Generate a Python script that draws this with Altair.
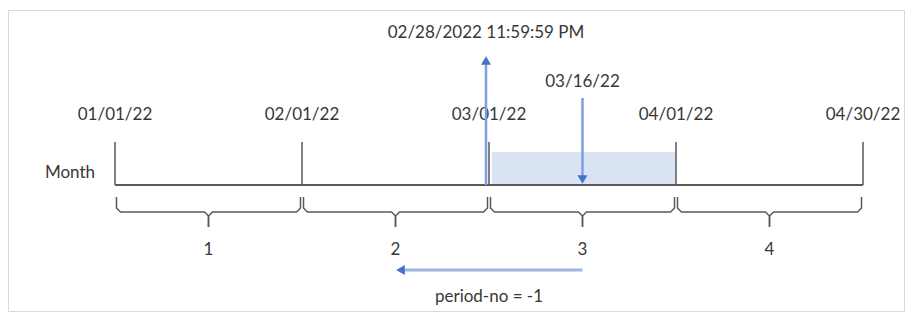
import altair as alt
import pandas as pd

# ---- data ----
boundary_labels = ["01/01/22", "02/01/22", "03/01/22", "04/01/22", "04/30/22"]
period_numbers = [1, 2, 3, 4]
row_label = "Month"
timestamp_label = "02/28/2022 11:59:59 PM"
input_label = "03/16/22"
shift_label = "period-no = -1"
input_period = 3
period_offset = -1

# ---- layout helpers (plot coordinates) ----
PX = 1.0 / 187.0           # one pixel in position units
XS = alt.Scale(domain=[-107 * PX, 790 * PX], nice=False, zero=False)
YS = alt.Scale(domain=[0, 304], reverse=True, nice=False, zero=False)
INK = "#595959"
TXT = "#383838"
BLUE = "#4472c4"
SHAFT = "#7f9edb"
FONT = "Lato"
FS = 17

def X(f="x"):
    return alt.X(f"{f}:Q", scale=XS, axis=None)

def Y(f="y"):
    return alt.Y(f"{f}:Q", scale=YS, axis=None)

n = len(boundary_labels)
bounds = pd.DataFrame({"x": list(range(n)), "label": boundary_labels,
                       "y": [134] * n, "y2": [177] * n, "ly": [107] * n})

frame = alt.Chart(pd.DataFrame({"a": [0]})).mark_rect(
    fill=None, stroke="#d9d9d9", strokeWidth=1).encode(
    x=alt.value(0.5), x2=alt.value(896.5), y=alt.value(2.5), y2=alt.value(303.5))

shade = alt.Chart(pd.DataFrame({"x": [input_period - 1 + 3 * PX], "x2": [input_period],
                                "y": [144], "y2": [177]})).mark_rect(
    color="#dae3f3").encode(x=X(), x2="x2:Q", y=Y(), y2="y2:Q")

ticks = alt.Chart(bounds).mark_rule(color=INK, strokeWidth=1.5).encode(
    x=X(), y=Y(), y2="y2:Q")

baseline = alt.Chart(pd.DataFrame({"x": [0], "x2": [n - 1], "y": [177]})).mark_rule(
    color=INK, strokeWidth=2).encode(x=X(), x2="x2:Q", y=Y())

date_text = alt.Chart(bounds).mark_text(font=FONT, fontSize=FS, color=TXT,
                                        baseline="middle").encode(
    x=X(), y=Y("ly"), text="label:N")

month_text = alt.Chart(pd.DataFrame({"x": [0], "y": [165], "t": [row_label]})).mark_text(
    font=FONT, fontSize=FS, color=TXT, align="right", baseline="middle", dx=-20).encode(
    x=X(), y=Y(), text="t:N")

# braces under each period
rows = []
for k in period_numbers:
    a, b, c = k - 1, k, k - 0.5
    for side, end, sgn in (("L", a + 1.5 * PX, 1), ("R", b - 1.5 * PX, -1)):
        pts = [(end, 189), (end, 200), (end + sgn * 4 * PX, 204),
               (c - sgn * 4 * PX, 204), (c, 208), (c, 219)]
        for i, (px, py) in enumerate(pts):
            rows.append({"seg": f"{k}{side}", "o": i, "x": px, "y": py})
braces = alt.Chart(pd.DataFrame(rows)).mark_line(color=INK, strokeWidth=1.5).encode(
    x=X(), y=Y(), detail="seg:N", order="o:Q")

nums = alt.Chart(pd.DataFrame({"x": [k - 0.5 for k in period_numbers],
                               "t": [str(k) for k in period_numbers],
                               "y": [242] * len(period_numbers)})).mark_text(
    font=FONT, fontSize=FS, color=TXT, baseline="middle").encode(
    x=X(), y=Y(), text="t:N")

HEAD = 100

# result arrow (up) at end of previous period
ts_x = input_period + period_offset - 3 * PX
up_shaft = alt.Chart(pd.DataFrame({"x": [ts_x], "y": [56], "y2": [177]})).mark_rule(
    color=SHAFT, strokeWidth=2.5).encode(x=X(), y=Y(), y2="y2:Q")
up_head = alt.Chart(pd.DataFrame({"x": [ts_x], "y": [52.5]})).mark_point(
    shape="triangle-up", filled=True, size=HEAD, color=BLUE, opacity=1).encode(x=X(), y=Y())
ts_text = alt.Chart(pd.DataFrame({"x": [ts_x], "y": [25], "t": [timestamp_label]})).mark_text(
    font=FONT, fontSize=FS, color=TXT, baseline="middle").encode(x=X(), y=Y(), text="t:N")

# input date arrow (down)
in_x = input_period - 0.5
down_shaft = alt.Chart(pd.DataFrame({"x": [in_x], "y": [90], "y2": [168]})).mark_rule(
    color=SHAFT, strokeWidth=2.5).encode(x=X(), y=Y(), y2="y2:Q")
down_head = alt.Chart(pd.DataFrame({"x": [in_x], "y": [171.5]})).mark_point(
    shape="triangle-down", filled=True, size=HEAD, color=BLUE, opacity=1).encode(x=X(), y=Y())
in_text = alt.Chart(pd.DataFrame({"x": [in_x], "y": [74], "t": [input_label]})).mark_text(
    font=FONT, fontSize=FS, color=TXT, baseline="middle").encode(x=X(), y=Y(), text="t:N")

# shift arrow (left)
to_x = in_x + period_offset
left_shaft = alt.Chart(pd.DataFrame({"x": [to_x + 7 * PX], "x2": [in_x], "y": [262]})).mark_rule(
    color="#9fb6e4", strokeWidth=3).encode(x=X(), x2="x2:Q", y=Y())
left_head = alt.Chart(pd.DataFrame({"x": [to_x + 5 * PX], "y": [262]})).mark_point(
    shape="triangle-left", filled=True, size=HEAD, color=BLUE, opacity=1).encode(x=X(), y=Y())
shift_text = alt.Chart(pd.DataFrame({"x": [(to_x + in_x) / 2], "y": [289], "t": [shift_label]})).mark_text(
    font=FONT, fontSize=FS, color=TXT, baseline="middle").encode(x=X(), y=Y(), text="t:N")

chart = alt.layer(
    frame, shade, ticks, baseline, date_text, month_text, braces, nums,
    up_shaft, up_head, ts_text, down_shaft, down_head, in_text,
    left_shaft, left_head, shift_text,
).properties(
    width=897, height=304, padding=0,
    autosize=alt.AutoSizeParams(type="none"),
).configure_view(stroke=None)

chart.save("out.html", embed_options={"renderer": "svg", "actions": False})
